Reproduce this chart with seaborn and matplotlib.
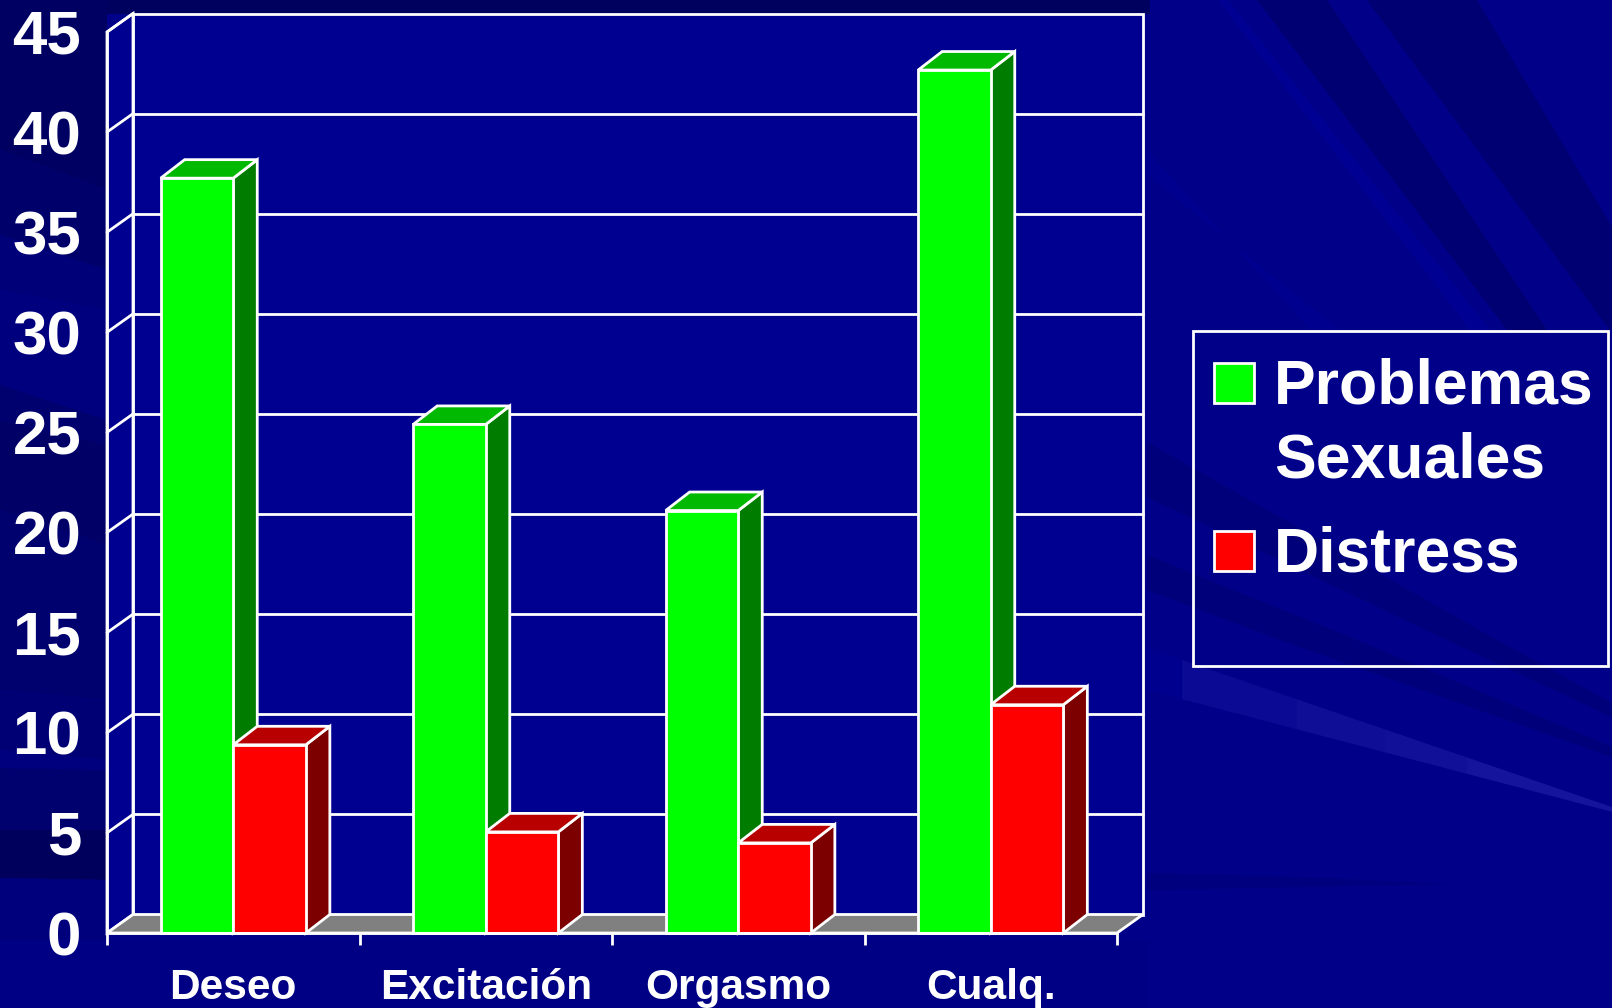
import matplotlib
matplotlib.use('Agg')
import matplotlib.pyplot as plt
import numpy as np
import pandas as pd
import seaborn as sns
from matplotlib.patches import Polygon, Rectangle

categories = ['Deseo', 'Excitación', 'Orgasmo', 'Cualq.']
problemas = [37.7, 25.4, 21.1, 43.1]
distress = [9.4, 5.05, 4.5, 11.4]
series_names = ['Problemas\nSexuales', 'Distress']
y_ticks = [0, 5, 10, 15, 20, 25, 30, 35, 40, 45]

GREEN = '#00ff00'
GREEN_TOP = '#00b900'
GREEN_SIDE = '#007d00'
RED = '#ff0000'
RED_TOP = '#b90000'
RED_SIDE = '#7d0000'
WALL = '#000090'
BASE = '#000088'
LW = 2
W = 1612
H = 1008

sns.set_theme(style='white')
plt.rcParams['font.family'] = ['Liberation Sans', 'DejaVu Sans']
plt.rcParams['font.weight'] = 'bold'

fig = plt.figure(figsize=(W / 100, H / 100), dpi=100, facecolor=BASE)

# background of the slide, in pixels
bg = fig.add_axes([0, 0, 1, 1], zorder=-1)
bg.set_xlim(0, W)
bg.set_ylim(H, 0)
bg.axis('off')
bg.set_facecolor(BASE)

bands = [
    # top strip and left column
    ([(0, 0), (1150, 0), (1150, 14), (0, 14)], '#00005e'),
    ([(0, 0), (107, 0), (107, 190), (0, 150)], '#000062'),
    ([(0, 150), (107, 190), (107, 270), (0, 235)], '#00006a'),
    ([(0, 235), (107, 270), (107, 310), (0, 290)], '#000078'),
    ([(0, 290), (107, 310), (107, 420), (0, 385)], '#00007e'),
    ([(0, 385), (107, 420), (107, 445), (0, 420)], '#00006e'),
    ([(0, 420), (107, 445), (107, 545), (0, 510)], '#000066'),
    ([(0, 510), (107, 545), (107, 700), (0, 690)], '#00006e'),
    ([(0, 690), (107, 700), (107, 760), (0, 750)], '#000074'),
    ([(0, 750), (107, 760), (107, 770), (0, 768)], '#00007e'),
    ([(0, 768), (107, 770), (107, 830), (0, 830)], '#00006e'),
    ([(0, 830), (107, 830), (107, 880), (0, 878)], '#00005c'),
    ([(0, 878), (107, 880), (107, 1008), (0, 1008)], '#00007c'),
    ([(0, 940), (1150, 940), (1150, 1008), (0, 1008)], '#000084'),
    # rays top right
    ([(1257, 0), (1327, 0), (1547, 330), (1507, 330)], '#000072'),
    ([(1367, 0), (1477, 0), (1612, 227), (1612, 330), (1610, 330)], '#000072'),
    ([(1218, 0), (1228, 0), (1490, 330), (1470, 330)], '#000092'),
    ([(1147, 150), (1147, 175), (1340, 330), (1310, 330)], '#00008e'),
    # rays right of the chart
    ([(1147, 442), (1147, 497), (1447, 640), (1612, 717), (1612, 703), (1497, 640)], '#00007a'),
    ([(1147, 555), (1147, 590), (1280, 640), (1612, 757), (1612, 747), (1357, 640)], '#00007a'),
    ([(1147, 873), (1147, 890), (1450, 884), (1300, 877)], '#00007e'),
]
for verts, color in bands:
    bg.add_patch(Polygon(verts, closed=True, facecolor=color, edgecolor='none'))

# light streak, gets brighter in steps to the right
steps = [1147, 1182, 1297, 1385, 1467, 1612]
step_colors = ['#00008f', '#0a0a94', '#0e0e97', '#101099', '#14149c']
for i in range(len(steps) - 1):
    x0, x1 = steps[i], steps[i + 1]
    top0 = 648 + (x0 - 1147) * 0.342
    top1 = 648 + (x1 - 1147) * 0.342
    low0 = 690 + (x0 - 1147) * 0.262
    low1 = 690 + (x1 - 1147) * 0.262
    bg.add_patch(Polygon([(x0, top0), (x1, top1), (x1, low1), (x0, low0)],
                         closed=True, facecolor=step_colors[i], edgecolor='none'))

# legend box
bg.add_patch(Rectangle((1193, 331), 415, 335, facecolor='none', edgecolor='white', lw=LW))
bg.add_patch(Rectangle((1214, 363), 40, 40, facecolor=GREEN, edgecolor='white', lw=LW))
bg.add_patch(Rectangle((1214, 531), 40, 40, facecolor=RED, edgecolor='white', lw=LW))
first, second = series_names[0].split('\n')
bg.text(1274, 403, first, color='white', fontsize=45, fontweight='bold', va='baseline')
bg.text(1274, 478, second, color='white', fontsize=45, fontweight='bold', va='baseline')
bg.text(1274, 571, series_names[1], color='white', fontsize=45, fontweight='bold', va='baseline')

# chart, the axes box is the front plane of the 3d look
ax = fig.add_axes([107 / W, (H - 933) / H, 1010 / W, 901 / H], zorder=2)
ax.patch.set_alpha(0)

df = pd.DataFrame({'categoria': categories, 'Problemas': problemas, 'Distress': distress})
df_long = df.melt(id_vars='categoria', var_name='serie', value_name='valor')
sns.barplot(data=df_long, x='categoria', y='valor', hue='serie', order=categories,
            hue_order=['Problemas', 'Distress'], palette=[GREEN, RED], saturation=1,
            width=0.575, gap=0, edgecolor='white', linewidth=LW, legend=False, ax=ax)

ax.set_xlim(-0.5, len(categories) - 0.5)
ax.set_ylim(0, 45)
dx = 24 / (1010 / len(categories))
dy = 18.5 / (901 / 45)
wall_dx = 26 / (1010 / len(categories))
x_left, x_right = ax.get_xlim()


def face(verts, color, z):
    ax.add_patch(Polygon(verts, closed=True, facecolor=color, edgecolor='white',
                         lw=LW, zorder=z, clip_on=False, joinstyle='miter'))


# walls and floor
face([(x_left + wall_dx, dy), (x_right + wall_dx, dy), (x_right + wall_dx, 45 + dy), (x_left + wall_dx, 45 + dy)], WALL, 0.3)
face([(x_left, 0), (x_left + wall_dx, dy), (x_left + wall_dx, 45 + dy), (x_left, 45)], WALL, 0.4)
face([(x_left, 0), (x_right, 0), (x_right + wall_dx, dy), (x_left + wall_dx, dy)], '#808080', 0.5)
for v in y_ticks[1:-1]:
    ax.plot([x_left + wall_dx, x_right + wall_dx], [v + dy, v + dy], color='white', lw=LW, zorder=0.6, clip_on=False)
for v in y_ticks[1:]:
    ax.plot([x_left, x_left + wall_dx], [v, v + dy], color='white', lw=LW, zorder=0.6, clip_on=False)

# side and top of each bar
bars = [p for p in ax.patches if isinstance(p, Rectangle) and p.get_height() > 0]
for bar in bars:
    is_green = bar.get_facecolor()[1] > 0.5
    side = GREEN_SIDE if is_green else RED_SIDE
    top = GREEN_TOP if is_green else RED_TOP
    z = 1.5 if is_green else 2
    x0 = bar.get_x()
    x1 = x0 + bar.get_width()
    h = bar.get_height()
    face([(x1, 0), (x1 + dx, dy), (x1 + dx, h + dy), (x1, h)], side, z)
    face([(x0, h), (x1, h), (x1 + dx, h + dy), (x0 + dx, h + dy)], top, z)
    bar.set_zorder(3)
    bar.set_clip_on(False)

for name in ['top', 'right']:
    ax.spines[name].set_visible(False)
for name in ['left', 'bottom']:
    ax.spines[name].set_color('white')
    ax.spines[name].set_linewidth(LW)
    ax.spines[name].set_zorder(4)

ax.set_xlabel('')
ax.set_ylabel('')
ax.set_yticks(y_ticks)
ax.set_xticks(np.arange(len(categories) + 1) - 0.5, minor=True)
ax.tick_params(axis='y', colors='white', length=8.6, width=LW, pad=10, labelsize=44.5)
ax.tick_params(axis='x', which='major', colors='white', length=0, pad=25.5, labelsize=30.5)
ax.tick_params(axis='x', which='minor', colors='white', length=8.6, width=LW, bottom=True)
for label in ax.get_xticklabels() + ax.get_yticklabels():
    label.set_fontweight('bold')

fig.savefig('out.png', dpi=100, facecolor=fig.get_facecolor())
